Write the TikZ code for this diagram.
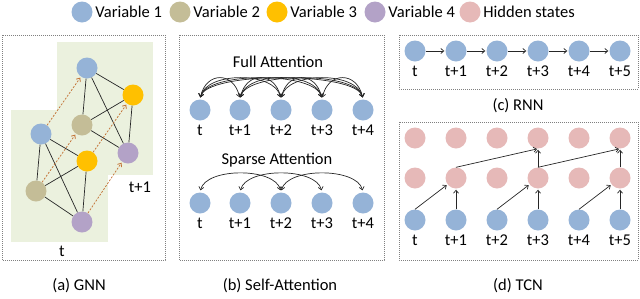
\documentclass[tikz,border=0pt]{standalone}
\usepackage{fontspec}
\setmainfont{Carlito}
\usepackage{xcolor}
\usepackage{tikz}
\usetikzlibrary{arrows.meta,positioning}
\definecolor{varBlue}{RGB}{149,179,215}
\definecolor{varTan}{RGB}{196,189,151}
\definecolor{varGold}{RGB}{255,192,0}
\definecolor{varLilac}{RGB}{179,162,199}
\definecolor{hidPink}{RGB}{230,185,184}
\definecolor{gnnGreen}{RGB}{235,241,222}
\definecolor{gnnArrow}{RGB}{196,118,58}

\begin{document}
\begin{tikzpicture}[x=1pt,y=-1pt,
    font=\fontsize{16.5}{19}\selectfont,
    dot/.style={circle, inner sep=0pt, minimum size=21pt},
    lbl/.style={inner sep=1pt},
    tick/.style={inner sep=1pt, text height=11pt, text depth=3pt},
    panel/.style={gray, line width=0.8pt, dash pattern=on 0.8pt off 1.2pt},
    link/.style={black!85, line width=0.7pt},
    hop/.style={gnnArrow, line width=0.8pt, dash pattern=on 2pt off 1.5pt},
    >={Straight Barb[length=3pt,width=5pt]}]
    \useasboundingbox (0,0) rectangle (640,298);

    % legend
    \node[dot, fill=varBlue] (leg1) at (82,12) {};
    \node[lbl, right=1.5pt of leg1] (legt1) {Variable 1};
    \node[dot, fill=varTan] (leg2) at (180,12) {};
    \node[lbl, right=1.5pt of leg2] (legt2) {Variable 2};
    \node[dot, fill=varGold] (leg3) at (277,12) {};
    \node[lbl, right=1.5pt of leg3] (legt3) {Variable 3};
    \node[dot, fill=varLilac] (leg4) at (375,12) {};
    \node[lbl, right=1.5pt of leg4] (legt4) {Variable 4};
    \node[dot, fill=hidPink] (leg5) at (470,12) {};
    \node[lbl, right=1.5pt of leg5] (legt5) {Hidden states};

    % panel frames
    \draw[panel] (2,35) rectangle (165,260);
    \draw[panel] (179,35) rectangle (384,260);
    \draw[panel] (399,35) rectangle (638,89);
    \draw[panel] (399,122) rectangle (638,260);

    % (a) GNN: two time slices
    \fill[gnnGreen] (57,42) rectangle (153,175);
    \fill[gnnGreen] (11,110) rectangle (108,242);
    \node[dot, fill=varBlue] (gb1) at (87,68) {};
    \node[dot, fill=varTan] (gb2) at (82,125) {};
    \node[dot, fill=varGold] (gb3) at (133,95) {};
    \node[dot, fill=varLilac] (gb4) at (128,153) {};
    \node[dot, fill=varBlue] (gf1) at (41,134) {};
    \node[dot, fill=varTan] (gf2) at (36,191) {};
    \node[dot, fill=varGold] (gf3) at (87,161) {};
    \node[dot, fill=varLilac] (gf4) at (82,222) {};
    \foreach \a/\b in {1/2,1/3,1/4,2/3,2/4,3/4}{
        \draw[link] (gb\a) -- (gb\b);
        \draw[link] (gf\a) -- (gf\b);
    }
    \foreach \k in {1,...,4}
        \draw[hop,->,shorten >=1pt] (gf\k) -- (gb\k);
    \node[lbl] (gnnnext) at (140,187) {t+1};
    \node[lbl] (gnnnow) at (62,251) {t};

    % (b) self-attention
    \node[lbl] (fulltitle) at (278,62) {Full Attention};
    \node[lbl] (sparsetitle) at (277,160) {Sparse Attention};
    \foreach \i/\xx/\lab in {0/200/t,1/240/t+1,2/281/t+2,3/322/t+3,4/363/t+4}{
        \node[dot, fill=varBlue] (fa\i) at (\xx,110) {};
        \node[tick, below=3pt of fa\i] (fal\i) {\lab};
        \node[dot, fill=varBlue] (sa\i) at (\xx,203) {};
        \node[tick, below=3pt of sa\i] (sal\i) {\lab};
    }
    \foreach \i in {0,...,3}{
        \pgfmathtruncatemacro\nxt{\i+1}
        \foreach \j in {\nxt,...,4}
            \draw[link,<->,shorten <=2pt,shorten >=2pt]
                (fa\i.north) .. controls +(6,-28) and +(-6,-28) .. (fa\j.north);
    }
    \foreach \i/\j in {0/2,1/3,2/4}
        \draw[link,<->,shorten <=2pt,shorten >=2pt]
            (sa\i.north) .. controls +(6,-25) and +(-6,-25) .. (sa\j.north);

    % (c) RNN
    \foreach \i/\xx/\lab in {0/415/t,1/456/t+1,2/497/t+2,3/538/t+3,4/579/t+4,5/620/t+5}{
        \node[dot, fill=varBlue] (r\i) at (\xx,51) {};
        \node[tick, below=3pt of r\i] (rl\i) {\lab};
    }
    \foreach \i in {0,...,4}{
        \pgfmathtruncatemacro\nxt{\i+1}
        \draw[link,->,shorten >=1pt] (r\i) -- (r\nxt);
    }

    % (d) TCN: input, hidden and output rows
    \foreach \i/\xx/\lab in {0/415/t,1/456/t+1,2/497/t+2,3/538/t+3,4/579/t+4,5/620/t+5}{
        \node[dot, fill=hidPink] (tt\i) at (\xx,138) {};
        \node[dot, fill=hidPink] (th\i) at (\xx,178) {};
        \node[dot, fill=varBlue] (tx\i) at (\xx,220) {};
        \node[tick, below=3pt of tx\i] (txl\i) {\lab};
    }
    \foreach \a/\b in {0/1,2/3,4/5}{
        \draw[link,->,shorten >=1pt] (tx\a.north) -- (th\b);
        \draw[link,->,shorten >=1pt] (tx\b) -- (th\b);
    }
    \draw[link,->,shorten >=1pt] (th1.north) -- (tt3.south);
    \draw[link,->,shorten >=1pt] (th3) -- (tt3);
    \draw[link,->,shorten >=1pt] (th3.north) -- (tt5.south);
    \draw[link,->,shorten >=1pt] (th5) -- (tt5);

    % captions
    \node[lbl] (capa) at (79,286) {(a) GNN};
    \node[lbl] (capb) at (280,286) {(b) Self-Attention};
    \node[lbl] (capc) at (518,106) {(c) RNN};
    \node[lbl] (capd) at (518,286) {(d) TCN};
\end{tikzpicture}
\end{document}
